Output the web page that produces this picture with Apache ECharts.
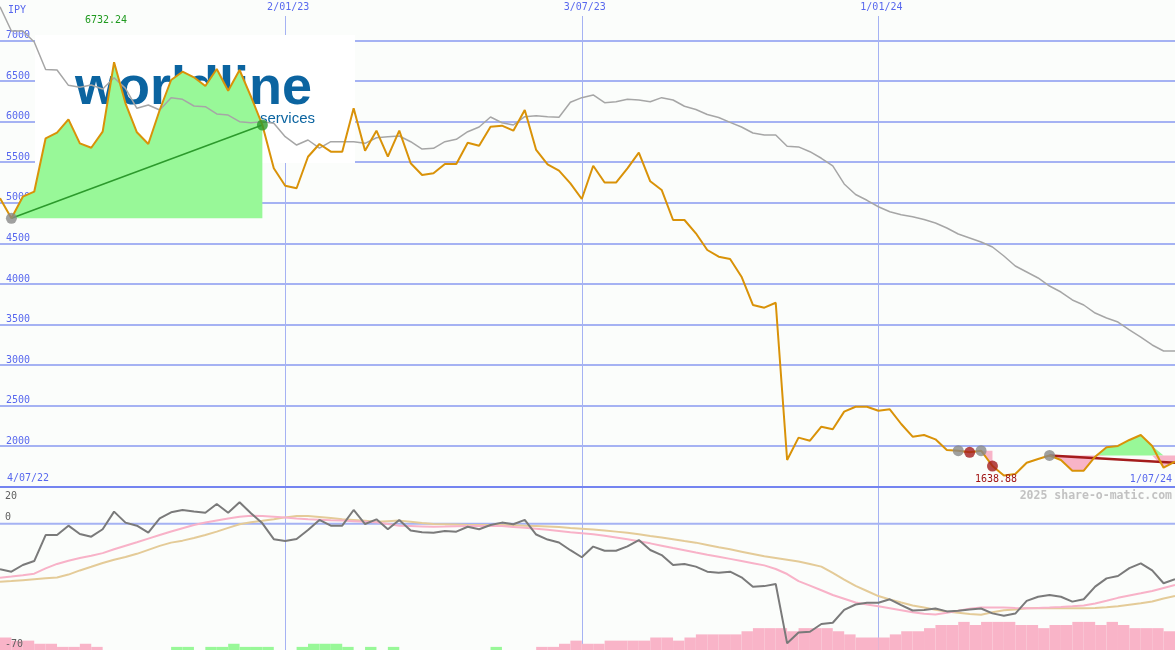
<!DOCTYPE html>
<html><head><meta charset="utf-8">
<script src="https://cdn.jsdelivr.net/npm/echarts@6/dist/echarts.min.js"></script>
<style>html,body{margin:0;padding:0;background:#fbfdfb}#c{width:1175px;height:650px}</style>
</head><body><div id="c"></div>
<script>
// ---------- DATA ----------
const price = [
 5055,4809,5075,5137,5795,5864,6029,5733,5679,5877,
 6732.24,6226,5869,5725,6144,6514,6616,6547,6440,6649,
 6382,6637,6308,5959,5425,5211,5179,5568,5725,5630,
 5630,6165,5642,5889,5568,5889,5487,5343,5363,5478,
 5478,5741,5704,5938,5951,5889,6144,5651,5474,5396,
 5240,5047,5457,5250,5250,5425,5618,5265,5158,4788,
 4788,4624,4418,4336,4307,4089,3740,3707,3768,1829,
 2105,2067,2240,2208,2425,2486,2486,2437,2454,2273,
 2117,2137,2084,1952,1944,1924,1944,1755,1638.88,1656,
 1796,1841,1885,1829,1697,1697,1870,1986,2002,2076,
 2137,2002,1734,1808];
const movingAvg = [
 7417,7118,7118,6982,6643,6637,6448,6424,6452,6403,
 6542,6411,6165,6206,6144,6296,6276,6193,6185,6095,
 6082,6000,5987,6000,5980,5815,5712,5774,5675,5753,
 5753,5753,5733,5802,5815,5823,5753,5663,5672,5753,
 5783,5876,5934,6058,5987,5959,6061,6074,6061,6054,
 6239,6296,6329,6234,6246,6276,6267,6246,6296,6267,
 6190,6150,6088,6051,5992,5934,5860,5836,5836,5698,
 5689,5630,5549,5454,5232,5102,5031,4951,4890,4852,
 4827,4794,4751,4689,4615,4566,4517,4455,4344,4221,
 4147,4073,3974,3900,3802,3740,3641,3580,3530,3432,
 3345,3247,3173,3173];
const oscillator = [
 -25.3,-26.6,-22.9,-20.7,-6.3,-6.3,-1.1,-5.7,-7.2,-3.1,
 6.7,0.6,-1.1,-5.0,3.0,6.3,7.6,6.7,6.1,10.9,
 6.1,11.9,5.8,0.2,-8.6,-9.6,-8.5,-3.5,2.1,-1.1,
 -1.1,7.6,-0.2,2.4,-3.1,2.1,-3.8,-4.8,-5.0,-4.0,
 -4.4,-1.7,-3.1,-0.7,0.6,-0.3,2.1,-6.0,-8.8,-10.4,
 -14.7,-18.6,-12.7,-15.0,-15.0,-12.6,-9.1,-14.6,-17.4,-22.9,
 -22.3,-23.8,-26.6,-27.2,-26.6,-29.7,-34.9,-34.6,-33.4,-66.3,
 -60.3,-59.9,-55.6,-54.9,-47.8,-44.8,-43.8,-43.8,-41.9,-45.1,
 -48.1,-47.8,-47.0,-48.6,-48.2,-47.5,-47.0,-49.7,-51.0,-49.8,
 -42.8,-40.5,-39.5,-40.5,-43.2,-41.9,-34.9,-30.3,-29.0,-24.6,
 -22.0,-25.9,-33.0,-30.8];
const oscFast = [
 -29.9,-29.3,-28.6,-27.7,-24.8,-22.3,-20.5,-19.0,-17.8,-16.3,
 -14.2,-12.2,-10.3,-8.3,-6.3,-4.3,-2.5,-0.7,0.7,1.8,
 2.9,3.8,4.4,4.3,3.9,3.4,2.9,2.5,2.2,1.9,
 1.7,1.4,1.1,0.8,-0.2,-1.1,-1.3,-1.5,-1.7,-1.6,
 -1.4,-1.3,-1.3,-1.3,-1.3,-1.8,-2.3,-2.8,-3.4,-4.0,
 -4.7,-5.3,-5.9,-6.7,-7.6,-8.6,-9.7,-10.9,-12.2,-13.5,
 -14.7,-16.0,-17.2,-18.3,-19.5,-20.7,-21.9,-23.1,-25.1,-27.9,
 -31.8,-34.3,-36.9,-39.5,-41.6,-43.7,-44.8,-45.8,-46.9,-48.0,
 -49.1,-49.9,-50.3,-49.4,-48.3,-47.2,-46.5,-46.4,-46.5,-46.7,
 -46.8,-46.7,-46.5,-46.2,-45.8,-45.3,-44.2,-42.7,-41.1,-39.8,
 -38.6,-37.3,-35.6,-34.0];
const oscSlow = [
 -32.2,-31.8,-31.3,-30.8,-30.3,-29.8,-28.2,-25.9,-23.9,-21.8,
 -20.0,-18.5,-16.7,-14.5,-12.3,-10.5,-9.4,-7.9,-6.3,-4.4,
 -2.3,-0.3,0.8,1.6,2.5,3.5,4.3,4.2,3.7,3.2,
 2.4,2.1,1.6,1.1,1.4,1.7,1.1,0.4,-0.2,-0.3,
 -0.5,-0.7,-0.7,-0.7,-0.7,-0.9,-1.1,-1.3,-1.6,-1.9,
 -2.4,-2.8,-3.2,-3.8,-4.4,-5.0,-5.8,-6.8,-7.7,-8.6,
 -9.6,-10.5,-11.8,-13.1,-14.2,-15.5,-16.8,-18.1,-19.0,-20.0,
 -21.0,-22.3,-23.8,-27.3,-31.0,-34.5,-37.3,-40.1,-42.0,-43.7,
 -45.3,-46.5,-47.7,-48.7,-49.4,-50.0,-50.5,-49.1,-48.0,-47.5,
 -46.9,-46.7,-46.8,-46.9,-46.9,-46.9,-46.7,-46.3,-45.7,-44.9,
 -44.1,-43.1,-41.5,-40.1];
// weekly histogram blocks (103 intervals between the 104 weekly points)
const histNeg = [
 4,3,3,2,2,1,1,2,1,0, 0,0,0,0,0,0,0,0,0,0,
 0,0,0,0,0,0,0,0,0,0, 0,0,0,0,0,0,0,0,0,0,
 0,0,0,0,0,0,0,1,1,2, 3,2,2,3,3,3,3,4,4,3,
 4,5,5,5,5,6,7,7,7,6, 7,7,7,6,5,4,4,4,5,6,
 6,7,8,8,9,8,9,9,9,8, 8,7,8,8,9,9,8,9,8,7,
 7,7,6];
const histPos = [
 0,0,0,0,0,0,0,0,0,0, 0,0,0,0,0,1,1,0,1,1,
 2,1,1,1,0,0,1,2,2,2, 1,0,1,0,1,0,0,0,0,0,
 0,0,0,1,0,0,0,0,0,0, 0,0,0,0,0,0,0,0,0,0,
 0,0,0,0,0,0,0,0,0,0, 0,0,0,0,0,0,0,0,0,0,
 0,0,0,0,0,0,0,0,0,0, 0,0,0,0,0,0,0,0,0,0,
 0,0,0];
const startLabel = '4/07/22';
const endLabel = '1/07/24';
const dateTicks = ['2/01/23', '3/07/23', '1/01/24'];
const lowerTicks = [20, 0, -70];
const currencyLabel = 'IPY';
const maxLabel = '6732.24';
const minLabel = '1638.88';
const greenZone = [1, 23];
const pinkZone = [84, 87];
const mixedZone = [92, 103];
const trendUp = [[1, 4809], [23, 5959]];
const trendDown = [[92, 1885], [103, 1796]];
const grayDots = [1, 84, 86, 92];
const redDots = [85, 87];
const greenDots = [23];

// ---------- BUILD ----------
const N = price.length;
const dates = [];
for (let i = 0; i < N; i++) {
  const d = new Date(Date.UTC(2022, 6, 11 + 7 * i));
  dates.push(d.getUTCDate() + '/' + String(d.getUTCMonth() + 1).padStart(2, '0') + '/' + String(d.getUTCFullYear()).slice(2));
}
const bands = histNeg.map((_, k) => String(k));
const blank = () => new Array(N).fill('-');
const gBase = blank(), gFill = blank(), pBase = blank(), pFill = blank();
function zone(z, green, pink) {
  const L = price[z[0]];
  for (let i = z[0]; i <= z[1]; i++) {
    if (green) { gBase[i] = L; gFill[i] = Math.max(price[i], L) - L; }
    if (pink) { const m = Math.min(price[i], L); pBase[i] = m; pFill[i] = L - m; }
  }
}
zone(greenZone, true, false);
zone(pinkZone, false, true);
zone(mixedZone, true, true);

const BLUE = '#5868ee', GRID = '#a5b2f3', BG = '#fbfdfb';
const MONO = 'DejaVu Sans Mono';
const isTick = (i, v) => dateTicks.indexOf(v) >= 0;

const invisible = { lineStyle: { opacity: 0, width: 0 }, symbol: 'none', silent: true };
const option = {
  backgroundColor: BG,
  animation: false,
  grid: [
    { left: 0, right: 0, top: 0, height: 486.7 },
    { left: 0, right: 0, top: 487.6, height: 162.4 }
  ],
  xAxis: [
    { gridIndex: 0, type: 'category', data: dates, boundaryGap: false, position: 'bottom',
      axisLine: { show: true, lineStyle: { color: '#7484f0', width: 2 } }, axisTick: { show: false }, axisLabel: { show: false },
      splitLine: { show: true, interval: isTick, lineStyle: { color: GRID, width: 1 } } },
    { gridIndex: 0, type: 'category', data: dates, boundaryGap: false, position: 'top', z: 3,
      axisLine: { show: false }, axisTick: { show: false }, splitLine: { show: false },
      axisLabel: { show: true, inside: true, interval: isTick, margin: 2, color: BLUE, fontFamily: MONO, fontSize: 10,
        verticalAlign: 'top', padding: [0, 0, 0, 6] } },
    { gridIndex: 1, type: 'category', data: dates, boundaryGap: false,
      axisLine: { show: false }, axisTick: { show: false }, axisLabel: { show: false },
      splitLine: { show: true, interval: isTick, lineStyle: { color: GRID, width: 1 } } },
    { gridIndex: 1, type: 'category', data: bands, boundaryGap: true, show: false }
  ],
  yAxis: [
    { gridIndex: 0, type: 'value', min: 1500, max: 7500, interval: 500,
      axisLine: { show: false }, axisTick: { show: false },
      axisLabel: { inside: true, margin: 6, verticalAlign: 'bottom', color: BLUE, fontFamily: MONO, fontSize: 10,
        showMinLabel: false, showMaxLabel: false, formatter: v => String(v) },
      splitLine: { show: true, lineStyle: { color: GRID, width: 2 } } },
    { gridIndex: 1, type: 'value', min: -70, max: 20, show: false, splitLine: { show: false } },
    { gridIndex: 1, type: 'value', min: 0, max: 52, show: false, splitLine: { show: false } }
  ],
  series: [
    Object.assign({ type: 'line', name: 'gBase', data: gBase, stack: 'g', z: 3 }, invisible),
    { type: 'line', name: 'gFill', data: gFill, stack: 'g', z: 3, symbol: 'none', silent: true,
      lineStyle: { opacity: 0, width: 0 }, areaStyle: { color: '#98f898', opacity: 1 } },
    Object.assign({ type: 'line', name: 'pBase', data: pBase, stack: 'p', z: 3 }, invisible),
    { type: 'line', name: 'pFill', data: pFill, stack: 'p', z: 3, symbol: 'none', silent: true,
      lineStyle: { opacity: 0, width: 0 }, areaStyle: { color: '#f8b4c8', opacity: 1 } },
    { type: 'line', name: 'ma', data: movingAvg, z: 4, symbol: 'none', lineStyle: { color: '#a6a6a6', width: 1.5 } },
    { type: 'line', name: 'up', data: trendUp, z: 4, symbol: 'none', lineStyle: { color: '#2c9a2c', width: 1.5 } },
    { type: 'line', name: 'down', data: trendDown, z: 4, symbol: 'none', lineStyle: { color: '#a41c1c', width: 2.5 } },
    { type: 'line', name: 'price', data: price, z: 5, symbol: 'none', lineStyle: { color: '#d99208', width: 2 } },
    { type: 'scatter', data: grayDots.map(i => [i, price[i]]), z: 6, symbolSize: 11, itemStyle: { color: '#888888' } },
    { type: 'scatter', data: redDots.map(i => [i, price[i]]), z: 6, symbolSize: 11, itemStyle: { color: '#a41c1c' } },
    { type: 'scatter', data: greenDots.map(i => [i, price[i]]), z: 6, symbolSize: 11, itemStyle: { color: '#2c9a2c' } },
    { type: 'bar', data: histNeg, xAxisIndex: 3, yAxisIndex: 2, barWidth: '100%', barGap: '-100%', z: 2,
      itemStyle: { color: '#f9b4c8' }, silent: true },
    { type: 'bar', data: histPos, xAxisIndex: 3, yAxisIndex: 2, barWidth: '100%', barGap: '-100%', z: 2,
      itemStyle: { color: '#98f898' }, silent: true },
    { type: 'line', data: oscSlow, xAxisIndex: 2, yAxisIndex: 1, z: 4, symbol: 'none', lineStyle: { color: '#e4cb98', width: 2 } },
    { type: 'line', data: oscFast, xAxisIndex: 2, yAxisIndex: 1, z: 4, symbol: 'none', lineStyle: { color: '#f8b2c8', width: 2 } },
    { type: 'line', data: oscillator, xAxisIndex: 2, yAxisIndex: 1, z: 5, symbol: 'none', lineStyle: { color: '#7a7a7a', width: 2 } }
  ]
};

const chart = echarts.init(document.getElementById('c'), null, { renderer: 'canvas' });
chart.setOption(option);

const W = 1175;
const yZero = chart.convertToPixel({ yAxisIndex: 1 }, 0);
const txt = (t, x, y, color, align) => ({
  type: 'text', z: 10, x: x, y: y,
  style: { text: t, fill: color, font: '10px "' + MONO + '"', textAlign: align || 'left', textVerticalAlign: 'middle' }
});
const elements = [
  { type: 'rect', z: 1, shape: { x: 0, y: 0, width: W, height: 16 }, style: { fill: BG } },
  { type: 'rect', z: 1, shape: { x: 35, y: 35, width: 320, height: 128 }, style: { fill: '#ffffff' } },
  { type: 'text', z: 1, z2: 5, x: 75, y: 89, style: { text: 'worldline', fill: '#0b64a0', font: 'bold 54px "Liberation Sans"', textAlign: 'left', textVerticalAlign: 'middle' } },
  { type: 'text', z: 1, z2: 5, x: 315, y: 119, style: { text: 'services', fill: '#0b64a0', font: '15px "Liberation Sans"', textAlign: 'right', textVerticalAlign: 'middle' } },
  { type: 'line', z: 1, shape: { x1: 0, y1: yZero, x2: W, y2: yZero }, style: { stroke: GRID, lineWidth: 2 } },
  txt(currencyLabel, 8, 10, BLUE),
  txt(maxLabel, 85, 20, '#1f9a1f'),
  txt(startLabel, 7, 478.5, BLUE),
  txt(endLabel, 1172, 479, BLUE, 'right'),
  txt(minLabel, 975, 479, '#a01414'),
  { type: 'text', z: 10, x: 1172, y: 496, style: { text: '2025 share-o-matic.com', fill: '#c2c2c2', font: 'bold 11.5px "' + MONO + '"', textAlign: 'right', textVerticalAlign: 'middle' } }
];
lowerTicks.forEach((v, k) => {
  const py = chart.convertToPixel({ yAxisIndex: 1 }, v);
  const first = k === 0;
  elements.push({ type: 'text', z: 10, x: 5, y: first ? py + 4 : py - 1,
    style: { text: String(v), fill: '#606060', font: '10px "' + MONO + '"', textAlign: 'left', textVerticalAlign: first ? 'top' : 'bottom' } });
});
chart.setOption({ graphic: { elements: elements } });
</script>
</body></html>
